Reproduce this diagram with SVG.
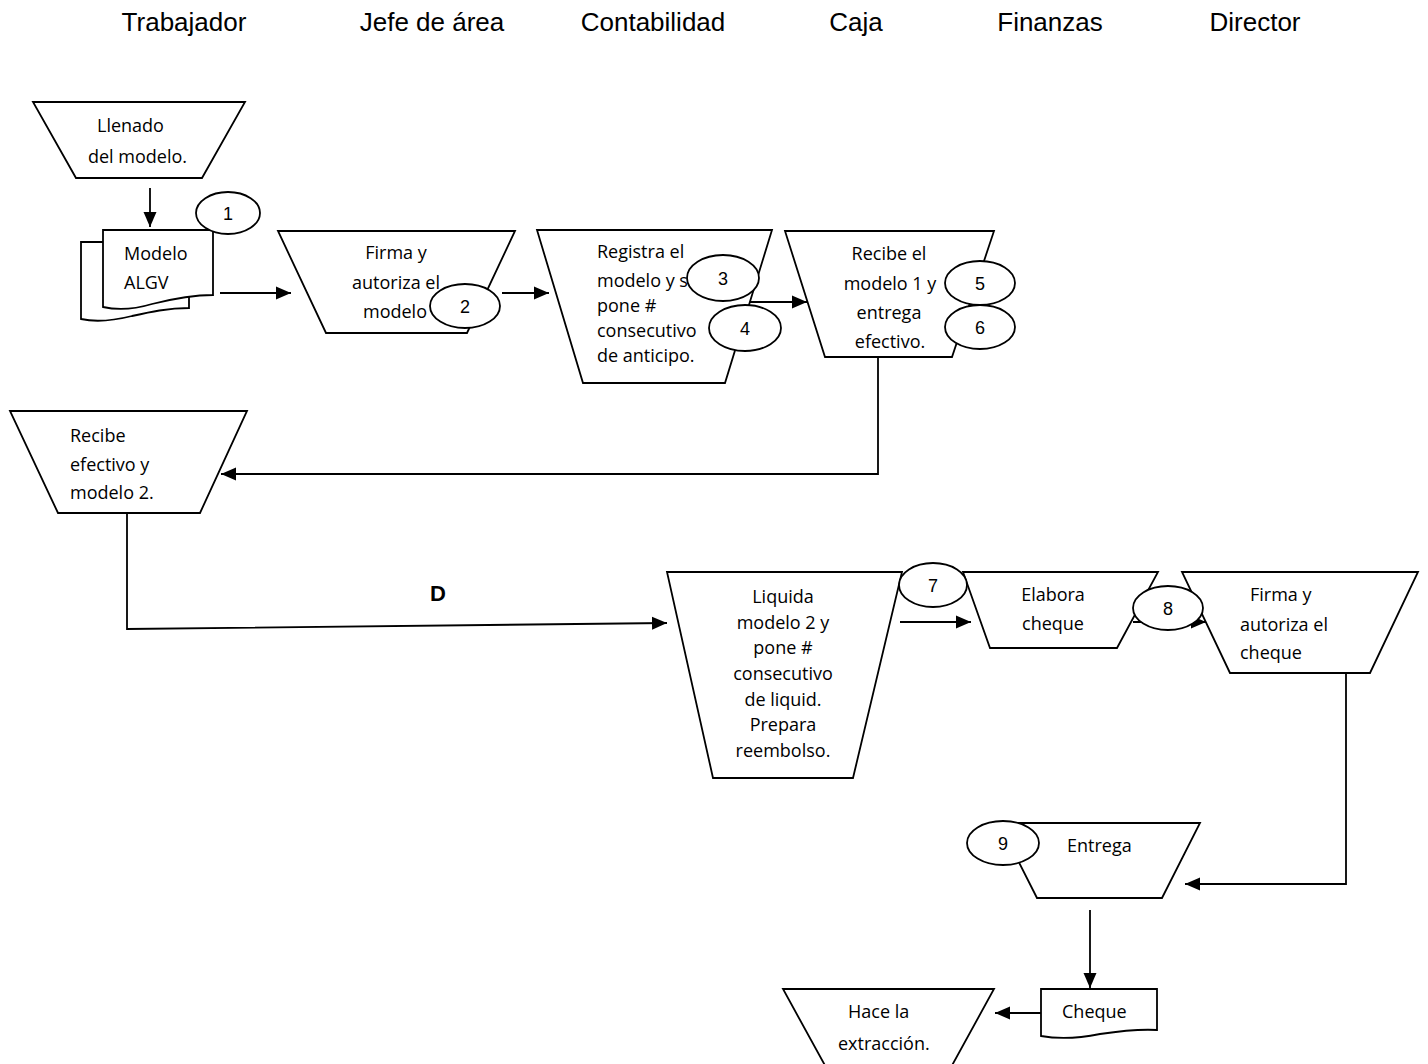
<svg xmlns="http://www.w3.org/2000/svg" width="1428" height="1064" viewBox="0 0 1428 1064">
  <style>
    .shape { fill: #fff; stroke: #000; stroke-width: 1.8; }
    .conn { fill: none; stroke: #000; stroke-width: 1.8; }
    .t { font-family: "Open Sans", "Noto Sans", sans-serif; font-size: 18px; fill: #000; }
    .c { text-anchor: middle; }
    .num { font-family: "Liberation Sans", Arial, sans-serif; font-size: 18px; text-anchor: middle; fill: #000; }
    .head { font-family: "Liberation Sans", Arial, sans-serif; font-size: 26px; text-anchor: middle; fill: #000; }
  </style>
  <defs>
    <marker id="arrow" markerUnits="userSpaceOnUse" markerWidth="16" markerHeight="14" refX="15" refY="7" orient="auto">
      <path d="M0,0.5 L15,7 L0,13.5 Z" fill="#000"/>
    </marker>
  </defs>
  <rect width="1428" height="1064" fill="#fff"/>

  <!-- lane headings -->
  <g id="headings">
    <text class="head" x="184" y="31">Trabajador</text>
    <text class="head" x="432" y="31">Jefe de área</text>
    <text class="head" x="653" y="31">Contabilidad</text>
    <text class="head" x="856" y="31">Caja</text>
    <text class="head" x="1050" y="31">Finanzas</text>
    <text class="head" x="1255" y="31">Director</text>
  </g>

  <!-- connectors -->
  <g id="connectors">
    <line class="conn" x1="150" y1="188" x2="150" y2="227" marker-end="url(#arrow)"/>
    <line class="conn" x1="220" y1="293" x2="291" y2="293" marker-end="url(#arrow)"/>
    <line class="conn" x1="502" y1="293" x2="549" y2="293" marker-end="url(#arrow)"/>
    <line class="conn" x1="748" y1="302" x2="807" y2="302" marker-end="url(#arrow)"/>
    <polyline class="conn" points="878,357 878,474 221,474" marker-end="url(#arrow)"/>
    <polyline class="conn" points="127,513 127,629 667,623" marker-end="url(#arrow)"/>
    <line class="conn" x1="900" y1="622" x2="971" y2="622" marker-end="url(#arrow)"/>
    <line class="conn" x1="1133" y1="622" x2="1206" y2="622" marker-end="url(#arrow)"/>
    <polyline class="conn" points="1346,667 1346,884 1185,884" marker-end="url(#arrow)"/>
    <line class="conn" x1="1090" y1="910" x2="1090" y2="988" marker-end="url(#arrow)"/>
    <line class="conn" x1="1041" y1="1013" x2="995" y2="1013" marker-end="url(#arrow)"/>
  </g>

  <!-- Trabajador: fills in the form -->
  <g id="llenado">
    <polygon class="shape" points="33,102 245,102 202,178 76,178"/>
    <text class="t" x="97" y="132">Llenado</text>
    <text class="t" x="88" y="163">del modelo.</text>
  </g>

  <!-- stacked documents: Modelo ALGV -->
  <g id="modelo-algv">
    <path class="shape" d="M81,242 H189 V308 C168,308 150,312 132,316 C112,321 94,322 81,319 Z"/>
    <path class="shape" d="M103,230 H213 V295 C192,295 172,299 152,304 C132,310 116,310 103,307 Z"/>
    <text class="t" x="124" y="260">Modelo</text>
    <text class="t" x="124" y="289">ALGV</text>
  </g>
  <g id="paso-1">
    <ellipse class="shape" cx="228" cy="213" rx="32" ry="21"/>
    <text class="num" x="228" y="220">1</text>
  </g>

  <!-- Jefe de área -->
  <g id="firma-modelo">
    <polygon class="shape" points="278,231 515,231 467,333 326,333"/>
    <text class="t c" x="396" y="259">Firma y</text>
    <text class="t c" x="396" y="289">autoriza el</text>
    <text class="t c" x="395" y="318">modelo</text>
  </g>
  <g id="paso-2">
    <ellipse class="shape" cx="465" cy="306" rx="35" ry="22"/>
    <text class="num" x="465" y="313">2</text>
  </g>

  <!-- Contabilidad -->
  <g id="registra">
    <polygon class="shape" points="537,230 772,230 725,383 583,383"/>
    <text class="t" x="597" y="258">Registra el</text>
    <text class="t" x="597" y="287">modelo y s</text>
    <text class="t" x="597" y="312">pone #</text>
    <text class="t" x="597" y="337">consecutivo</text>
    <text class="t" x="597" y="362">de anticipo.</text>
  </g>
  <g id="paso-3">
    <ellipse class="shape" cx="723" cy="278" rx="36" ry="23"/>
    <text class="num" x="723" y="285">3</text>
  </g>
  <g id="paso-4">
    <ellipse class="shape" cx="745" cy="328" rx="36" ry="23"/>
    <text class="num" x="745" y="335">4</text>
  </g>

  <!-- Caja -->
  <g id="recibe-modelo">
    <polygon class="shape" points="785,231 994,231 952,357 825,357"/>
    <text class="t c" x="889" y="260">Recibe el</text>
    <text class="t c" x="890" y="290">modelo 1 y</text>
    <text class="t c" x="889" y="319">entrega</text>
    <text class="t c" x="890" y="348">efectivo.</text>
  </g>
  <g id="paso-5">
    <ellipse class="shape" cx="980" cy="283" rx="35" ry="22"/>
    <text class="num" x="980" y="290">5</text>
  </g>
  <g id="paso-6">
    <ellipse class="shape" cx="980" cy="327" rx="35" ry="22"/>
    <text class="num" x="980" y="334">6</text>
  </g>

  <!-- Trabajador: receives cash -->
  <g id="recibe-efectivo">
    <polygon class="shape" points="10,411 247,411 200,513 58,513"/>
    <text class="t" x="70" y="442">Recibe</text>
    <text class="t" x="70" y="471">efectivo y</text>
    <text class="t" x="70" y="499">modelo 2.</text>
  </g>

  <text id="etiqueta-d" x="438" y="601" font-family="Liberation Sans, Arial, sans-serif" font-size="22" font-weight="bold" text-anchor="middle">D</text>

  <!-- Contabilidad: settlement -->
  <g id="liquida">
    <polygon class="shape" points="667,572 902,572 853,778 713,778"/>
    <text class="t c" x="783" y="603">Liquida</text>
    <text class="t c" x="783" y="629">modelo 2 y</text>
    <text class="t c" x="783" y="654">pone #</text>
    <text class="t c" x="783" y="680">consecutivo</text>
    <text class="t c" x="783" y="706">de liquid.</text>
    <text class="t c" x="783" y="731">Prepara</text>
    <text class="t c" x="783" y="757">reembolso.</text>
  </g>

  <!-- Finanzas -->
  <g id="elabora-cheque">
    <polygon class="shape" points="963,572 1158,572 1117,648 990,648"/>
    <text class="t c" x="1053" y="601">Elabora</text>
    <text class="t c" x="1053" y="630">cheque</text>
  </g>
  <g id="paso-7">
    <ellipse class="shape" cx="933" cy="585" rx="34" ry="22"/>
    <text class="num" x="933" y="592">7</text>
  </g>

  <!-- Director -->
  <g id="firma-cheque">
    <polygon class="shape" points="1182,572 1418,572 1370,673 1230,673"/>
    <text class="t" x="1250" y="601">Firma y</text>
    <text class="t" x="1240" y="631">autoriza el</text>
    <text class="t" x="1240" y="659">cheque</text>
  </g>
  <g id="paso-8">
    <ellipse class="shape" cx="1168" cy="608" rx="35" ry="22"/>
    <text class="num" x="1168" y="615">8</text>
  </g>

  <!-- Finanzas: delivery -->
  <g id="entrega">
    <polygon class="shape" points="999,823 1200,823 1162,898 1037,898"/>
    <text class="t" x="1067" y="852">Entrega</text>
  </g>
  <g id="paso-9">
    <ellipse class="shape" cx="1003" cy="843" rx="36" ry="22"/>
    <text class="num" x="1003" y="850">9</text>
  </g>

  <g id="cheque">
    <path class="shape" d="M1041,989 H1157 V1030 C1140,1029 1120,1031 1100,1034 C1080,1038 1058,1039 1041,1036 Z"/>
    <text class="t" x="1062" y="1018">Cheque</text>
  </g>

  <g id="extraccion">
    <polygon class="shape" points="783,989 994,989 944,1080 833,1080"/>
    <text class="t" x="848" y="1018">Hace la</text>
    <text class="t" x="838" y="1050">extracción.</text>
  </g>
</svg>
